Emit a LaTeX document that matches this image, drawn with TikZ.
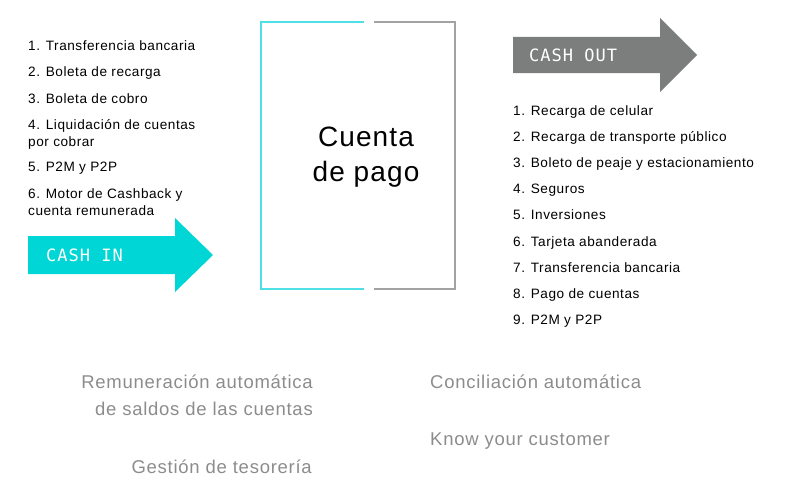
\documentclass[tikz,border=0pt]{standalone}
\usepackage{fontspec}
\setmainfont{Liberation Sans}[LetterSpace=4]
\setmonofont{DejaVu Sans Mono}[LetterSpace=6]
\definecolor{cashcyan}{HTML}{00D6D6}
\definecolor{cashgray}{HTML}{7B7E7C}
\definecolor{linecyan}{HTML}{4FE0E6}
\definecolor{linegray}{HTML}{A3A3A3}
\definecolor{softgray}{HTML}{8C8C8C}
\tikzset{
  item/.style={anchor=base west, font=\fontsize{13.6}{17}\selectfont, inner sep=0pt, align=left},
  extra/.style={font=\fontsize{18.5}{27}\selectfont, text=softgray, inner sep=0pt},
  tag/.style={font=\ttfamily\fontsize{17}{18}\selectfont, text=white, anchor=west, inner sep=0pt}
}
\begin{document}
\begin{tikzpicture}[x=1pt, y=-1pt]
  \useasboundingbox (0,0) rectangle (800,503);
  % account box
  \coordinate (TL) at (261,22);
  \coordinate (BL) at (261,289);
  \coordinate (TM) at (364,22);
  \coordinate (BM) at (364,289);
  \coordinate (TG) at (374,22);
  \coordinate (BG) at (374,289);
  \coordinate (TR) at (455,22);
  \coordinate (BR) at (455,289);
  \draw[linecyan, line width=1.2pt] (TM) -- (TL) -- (BL) -- (BM);
  \draw[linegray, line width=1.2pt] (TG) -- (TR) -- (BR) -- (BG);
  \node[font=\fontsize{28}{35}\selectfont, align=center] (ACC) at (366,157) {Cuenta\\de pago};
  % cash in arrow
  \fill[cashcyan] (28,236) -- (175,236) -- (175,218) -- (213,255) -- (175,292) -- (175,274) -- (28,274) -- cycle;
  \node[tag] (IN) at (46,255) {CASH IN};
  % cash out arrow
  \fill[cashgray] (513,37) -- (660,37) -- (660,18) -- (697,55) -- (660,92) -- (660,73) -- (513,73) -- cycle;
  \node[tag] (OUT) at (529,55) {CASH OUT};
  % cash in list
  \node[item] (i1) at (28,51) {1. Transferencia bancaria};
  \node[item] (i2) at (28,77) {2. Boleta de recarga};
  \node[item] (i3) at (28,103) {3. Boleta de cobro};
  \node[item] (i4) at (28,146) {4. Liquidación de cuentas\\por cobrar};
  \node[item] (i5) at (28,171) {5. P2M y P2P};
  \node[item] (i6) at (28,215) {6. Motor de Cashback y\\cuenta remunerada};
  % cash out list
  \foreach \t [count=\k] in {Recarga de celular, Recarga de transporte público,
      Boleto de peaje y estacionamiento, Seguros, Inversiones, Tarjeta abanderada,
      Transferencia bancaria, Pago de cuentas, P2M y P2P}
    \node[item] (o\k) at (513,{115+26.2*(\k-1)}) {\k. \t};
  % extra services
  \node[extra, anchor=east, align=right] (REM) at (313,395) {Remuneración automática\\de saldos de las cuentas};
  \node[extra, anchor=east] (TES) at (312,467) {Gestión de tesorería};
  \node[extra, anchor=west] (CON) at (430,382) {Conciliación automática};
  \node[extra, anchor=west] (KYC) at (430,441) {Know your customer};
\end{tikzpicture}
\end{document}
